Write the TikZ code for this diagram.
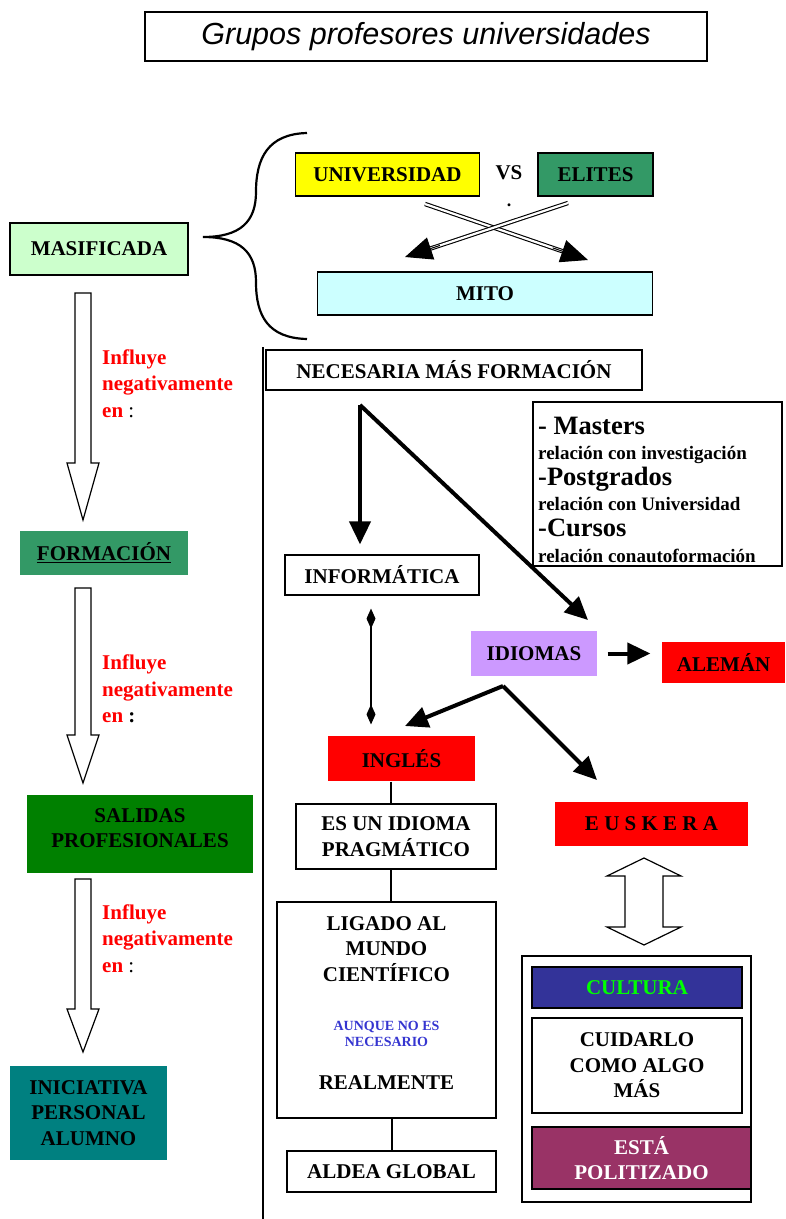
\documentclass[tikz,border=0pt]{standalone}
\usepackage{fontspec}
\setmainfont{Liberation Serif}
\setsansfont{Liberation Sans}
\usepackage{xcolor}
\usepackage{tikz}
\usetikzlibrary{arrows.meta}
\definecolor{verdeclaro}{HTML}{CCFFCC}
\definecolor{amarillo}{HTML}{FFFF00}
\definecolor{verdemar}{HTML}{339966}
\definecolor{celeste}{HTML}{CCFFFF}
\definecolor{lila}{HTML}{CC99FF}
\definecolor{rojo}{HTML}{FF0000}
\definecolor{verde}{HTML}{008000}
\definecolor{azulverde}{HTML}{008080}
\definecolor{anil}{HTML}{333399}
\definecolor{lima}{HTML}{00FF00}
\definecolor{ciruela}{HTML}{993366}
\definecolor{azultexto}{HTML}{3535D0}
\tikzset{
  caja/.style    = {draw, line width=1.2pt, inner sep=0pt, align=center,
                    font=\bfseries\fontsize{21}{25.5}\selectfont},
  plana/.style   = {caja, draw=none},
  texto/.style   = {inner sep=0pt, align=center,
                    font=\bfseries\fontsize{21}{25.5}\selectfont},
  flecha/.style  = {line width=4pt, -{Triangle[length=23pt,width=21pt]}},
  cruce/.style   = {double, double distance=2.2pt, line width=1.1pt, shorten >=14pt},
  puntacruce/.style = {line width=1pt, shorten <=135pt,
                    -{Triangle[length=27pt,width=23pt]}},
  rombo/.style   = {line width=1.4pt,
                    {Diamond[length=20pt,width=9pt]}-{Diamond[length=20pt,width=9pt]}},
  hueca/.style   = {draw, line width=1.2pt, fill=white, line join=miter},
  influye/.style = {anchor=west, align=left, inner sep=0pt, text=rojo,
                    font=\bfseries\fontsize{21}{26.5}\selectfont},
  enlace/.style  = {line width=1.4pt},
}

\begin{document}
\begin{tikzpicture}[x=1pt, y=-1pt]
\useasboundingbox (0,0) rectangle (785,1219);
\node[caja, font=\sffamily\itshape\fontsize{30.5}{36}\selectfont, minimum width=562, minimum height=49] (titulo) at (426,36.5) {Grupos profesores universidades};

% columna izquierda
\node[caja, fill=verdeclaro, minimum width=178, minimum height=52] (masificada) at (99,249) {MASIFICADA};
\node[plana, fill=verdemar, minimum width=168, minimum height=44] (formacion) at (104,553) {\underline{FORMACIÓN}};
\node[plana, fill=verde, minimum width=226, minimum height=78] (salidas) at (140,834) {};
\node[texto] (salidastxt) at (140,828) {SALIDAS\\PROFESIONALES};
\node[plana, fill=azulverde, minimum width=157, minimum height=94] (iniciativa) at (88.5,1113) {INICIATIVA\\PERSONAL\\ALUMNO};
\foreach \ini/\cab/\pun in {293/463/520, 588/735/783, 879/1009/1052}
  \draw[hueca] (75,\ini) -- (91,\ini) -- (91,\cab) -- (99,\cab) -- (83,\pun) -- (67,\cab) -- (75,\cab) -- cycle;
\node[influye] (influye1) at (102,383.5) {Influye\\negativamente\\en {\color{black}\mdseries :}};
\node[influye] (influye2) at (102,689) {Influye\\negativamente\\en {\color{black}:}};
\node[influye] (influye3) at (102,938.5) {Influye\\negativamente\\en {\color{black}\mdseries :}};

% llave y mito
\coordinate (llaveArr) at (307,133);
\coordinate (llavePico) at (203,237);
\coordinate (llaveAb) at (307,339);
\draw[line width=2.2pt] (llaveArr) .. controls (268,134) and (256,158) .. (256,192)
  .. controls (256,222) and (240,237) .. (llavePico)
  .. controls (240,237) and (256,252) .. (256,282)
  .. controls (256,316) and (268,338) .. (llaveAb);
\node[caja, fill=amarillo, minimum width=184, minimum height=43] (universidad) at (387.5,174.5) {UNIVERSIDAD};
\node[texto] (vs) at (509,173) {VS};
\node[inner sep=0pt, font=\bfseries\fontsize{18}{20}\selectfont, anchor=base] (punto) at (509,206) {.};
\node[caja, fill=verdemar, minimum width=115, minimum height=43] (elites) at (595.5,174.5) {ELITES};
\node[caja, fill=celeste, minimum width=335, minimum height=43] (mito) at (485,293.5) {MITO};
\coordinate (cruceA1) at (425,204);
\coordinate (cruceA2) at (588,260);
\coordinate (cruceB1) at (568,203);
\coordinate (cruceB2) at (405,257);
\draw[cruce] (cruceA1) -- (cruceA2);
\draw[cruce] (cruceB1) -- (cruceB2);
\draw[puntacruce] (cruceA1) -- (cruceA2);
\draw[puntacruce] (cruceB1) -- (cruceB2);

% columna derecha
\coordinate (sepArr) at (263,347);
\coordinate (sepAb) at (263,1219);
\draw[line width=1.5pt] (sepArr) -- (sepAb);
\node[caja, minimum width=376, minimum height=40] (necesaria) at (454,370) {NECESARIA MÁS FORMACIÓN};
\node[caja, minimum width=249, minimum height=164] (masters) at (657.5,484) {};
\node[anchor=north west, align=left, inner sep=0pt, font=\bfseries\fontsize{19}{25.6}\selectfont] (masterstxt) at (538,416.5)
  {{\fontsize{26.5}{25.6}\selectfont - Masters}\\
   relación con investigación\\
   {\fontsize{26.5}{25.6}\selectfont -Postgrados}\\
   relación con Universidad\\
   {\fontsize{26.5}{25.6}\selectfont -Cursos}\\
   relación conautoformación};
\node[caja, minimum width=194, minimum height=40] (informatica) at (382,575) {INFORMÁTICA};
\node[plana, fill=lila, minimum width=126, minimum height=45] (idiomas) at (534,653.5) {IDIOMAS};
\node[plana, fill=rojo, minimum width=123, minimum height=41] (aleman) at (723.5,662.5) {ALEMÁN};
\node[plana, fill=rojo, minimum width=147, minimum height=45] (ingles) at (401.5,758.5) {INGLÉS};
\node[plana, fill=rojo, minimum width=193, minimum height=44] (euskera) at (651.5,824) {E U S K E R A};
\coordinate (bifur) at (360,405);
\coordinate (idiomasEnt) at (588,620);
\coordinate (reparto) at (503,686);
\coordinate (inglesEnt) at (405,726);
\coordinate (euskeraEnt) at (597,780);
\draw[flecha, shorten >=10pt] (bifur) -- (bifur |- informatica.north);
\draw[flecha] (bifur) -- (idiomasEnt);
\draw[flecha] ([xshift=10pt]idiomas.east) -- ([xshift=-11pt]idiomas.east -| aleman.west);
\draw[flecha] (reparto) -- (inglesEnt);
\draw[flecha] (reparto) -- (euskeraEnt);
\draw[rombo] ([xshift=-11pt,yshift=-13pt]informatica.south) -- ([xshift=-30.5pt,yshift=11pt]ingles.north);

\node[caja, minimum width=200, minimum height=65] (esun) at (396,836.5) {ES UN IDIOMA\\PRAGMÁTICO};
\node[caja, minimum width=219, minimum height=216] (ligado) at (386.5,1010) {};
\node[texto] (ligadotxt) at (386.5,949) {LIGADO AL\\MUNDO\\CIENTÍFICO};
\node[texto, text=azultexto, font=\bfseries\fontsize{14}{16.5}\selectfont] (aunque) at (386.5,1034) {AUNQUE NO ES\\NECESARIO};
\node[texto] (realmente) at (386.5,1083) {REALMENTE};
\node[caja, minimum width=209, minimum height=41] (aldea) at (391.5,1171.5) {ALDEA GLOBAL};
\draw[enlace] ([xshift=-10.5pt]ingles.south) -- ([xshift=-5pt]esun.north);
\draw[enlace] ([xshift=-5pt]esun.south) -- ([xshift=4.5pt]ligado.north);
\draw[enlace] ([xshift=5.5pt]ligado.south) -- ([xshift=0.5pt]aldea.north);

% euskera
\draw[hueca] (644,858) -- (681,876) -- (663,876) -- (663,927) -- (681,927) -- (644,945)
  -- (607,927) -- (625,927) -- (625,876) -- (607,876) -- cycle;
\node[caja, line width=1.5pt, minimum width=229, minimum height=246] (grupo) at (636.5,1079) {};
\node[caja, fill=anil, text=lima, minimum width=210, minimum height=41] (cultura) at (637,987.5) {CULTURA};
\node[caja, minimum width=210, minimum height=95] (cuidarlo) at (637,1065.5) {CUIDARLO\\COMO ALGO\\MÁS};
\node[caja, fill=ciruela, text=white, minimum width=219, minimum height=62] (politizado) at (641.5,1158) {ESTÁ\\POLITIZADO};
\end{tikzpicture}
\end{document}
